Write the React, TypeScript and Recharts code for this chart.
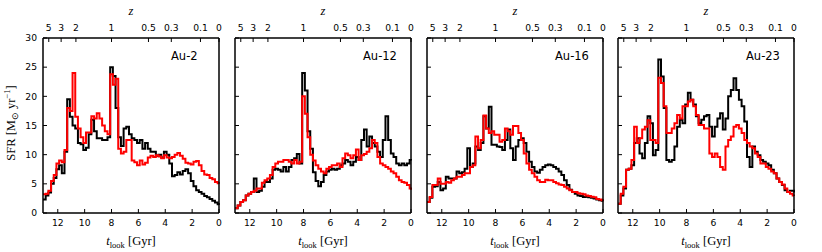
import React from 'react';
import { LineChart, Line, XAxis, YAxis, Customized } from 'recharts';

// lookback time bin edges [Gyr], oldest first
const tLook = [
  13.1, 12.9, 12.7, 12.5, 12.3, 12.1, 11.9, 11.7, 11.5, 11.3,
  11.1, 10.9, 10.7, 10.5, 10.3, 10.1, 9.9, 9.7, 9.5, 9.3,
  9.1, 8.9, 8.7, 8.5, 8.3, 8.1, 7.9, 7.7, 7.5, 7.3,
  7.1, 6.9, 6.7, 6.5, 6.3, 6.1, 5.9, 5.7, 5.5, 5.3,
  5.1, 4.9, 4.7, 4.5, 4.3, 4.1, 3.9, 3.7, 3.5, 3.3,
  3.1, 2.9, 2.7, 2.5, 2.3, 2.1, 1.9, 1.7, 1.5, 1.3,
  1.1, 0.9, 0.7, 0.5, 0.3, 0.1, 0.0,
];

const tTicks = [0, 2, 4, 6, 8, 10, 12];
const sfrTicks = [0, 5, 10, 15, 20, 25, 30];
const zLabels = ['5', '3', '2', '1', '0.5', '0.3', '0.1', '0'];
const zTickT = [12.67, 11.75, 10.65, 8.0, 5.25, 3.55, 1.38, 0];

const au2Black = [
  2.3, 3.0, 3.5, 5.0, 6.0, 7.5, 8.2, 6.8, 10.5, 19.5,
  16.5, 15.0, 14.5, 12.0, 11.8, 10.8, 11.2, 13.5, 16.0, 14.0,
  12.8, 12.8, 12.5, 12.5, 13.0, 25.0, 23.5, 18.0, 13.0, 11.5,
  14.5, 14.8, 13.5, 12.8, 12.5, 12.0, 12.5, 11.0, 12.0, 11.0,
  10.5, 10.5, 9.8, 10.0, 9.5, 10.5, 10.0, 8.5, 6.3, 6.5,
  7.0, 6.6, 7.2, 7.5, 6.8, 5.5, 4.6, 3.9, 3.6, 3.3,
  2.9, 2.7, 2.4, 2.1, 1.8, 1.5, 1.4,
];
const au2Red = [
  3.2, 3.3, 3.8, 5.5, 6.5, 8.5, 9.0, 8.7, 10.8, 18.0,
  17.5, 24.0, 16.5, 14.5, 13.0, 12.0, 13.8, 13.8, 16.6, 16.2,
  17.1, 16.2, 15.0, 14.0, 13.5, 23.8, 22.0, 23.0, 11.0, 10.2,
  10.5, 12.5, 12.5, 9.0, 8.7, 8.2, 9.0, 8.3, 8.6, 9.5,
  9.8, 9.6, 9.9, 9.7, 9.4, 9.9, 9.5, 9.4, 9.6, 10.0,
  10.3, 9.8, 9.3, 8.6, 8.5, 8.3, 8.8, 8.9, 8.2, 7.2,
  6.6, 6.5, 6.0, 5.8, 5.3, 5.1, 5.0,
];

const au12Black = [
  0.8, 1.3, 1.9, 2.2, 3.0, 3.3, 3.6, 5.9, 3.6, 3.8,
  4.5, 5.3, 5.3, 5.9, 7.4, 7.6, 7.4, 7.1, 7.9, 7.1,
  7.9, 9.1, 9.4, 10.1, 8.5, 24.0, 21.0, 14.0, 11.0, 7.0,
  5.5, 4.6, 5.3, 6.5, 7.1, 7.4, 7.6, 7.4, 7.6, 8.2,
  8.5, 9.1, 8.8, 8.2, 8.8, 9.6, 9.1, 12.5, 14.3, 11.4,
  13.1, 12.0, 11.4, 10.5, 9.6, 12.5, 16.6, 12.5, 10.2, 9.6,
  8.5, 8.2, 8.5, 8.2, 8.5, 9.1, 9.0,
];
const au12Red = [
  0.8, 1.3, 1.9, 2.2, 3.0, 3.3, 3.6, 3.8, 4.2, 4.2,
  5.2, 5.6, 5.9, 6.5, 7.9, 8.5, 8.8, 8.8, 9.1, 9.1,
  8.8, 8.5, 9.1, 8.5, 8.8, 20.0, 17.0, 13.0, 10.0, 9.0,
  8.2, 7.6, 7.1, 6.8, 7.6, 7.9, 8.2, 8.2, 8.5, 7.9,
  9.4, 10.2, 9.9, 9.4, 9.9, 10.9, 9.1, 9.9, 10.1, 10.5,
  11.1, 12.5, 12.0, 9.6, 8.5, 8.2, 7.9, 7.6, 7.1, 6.8,
  6.2, 5.6, 5.3, 5.2, 4.8, 4.2, 4.0,
];

const au16Black = [
  1.9, 2.6, 4.5, 4.6, 5.3, 3.9, 4.2, 6.2, 5.9, 5.9,
  5.9, 7.1, 6.8, 7.0, 7.6, 11.1, 7.9, 8.5, 11.4, 10.8,
  12.0, 16.6, 14.5, 18.2, 11.7, 11.7, 11.4, 11.3, 10.8, 12.5,
  14.3, 11.1, 9.1, 11.4, 12.5, 12.8, 12.0, 10.5, 8.8, 7.9,
  7.1, 6.9, 7.4, 7.9, 8.2, 8.3, 8.2, 7.9, 7.6, 7.1,
  6.5, 5.6, 4.8, 4.0, 3.6, 3.3, 3.0, 2.9, 2.75, 2.8,
  2.7, 2.6, 2.5, 2.3, 2.2, 2.1, 2.0,
];
const au16Red = [
  1.9, 2.75, 4.8, 4.8, 5.9, 5.0, 5.0, 5.3, 5.2, 5.6,
  5.9, 6.2, 6.2, 6.5, 6.8, 6.8, 7.9, 8.2, 13.1, 11.1,
  12.5, 16.7, 14.5, 13.7, 14.0, 13.4, 13.4, 12.2, 12.5, 14.5,
  14.0, 13.4, 14.9, 14.9, 13.7, 12.5, 10.2, 8.5, 7.4, 6.8,
  6.2, 5.6, 5.3, 5.3, 5.7, 5.6, 5.6, 5.3, 5.1, 4.9,
  4.8, 4.5, 4.2, 3.9, 3.6, 3.6, 3.4, 3.3, 3.2, 3.0,
  2.9, 2.8, 2.7, 2.4, 2.3, 2.2, 2.1,
];

const au23Black = [
  1.6, 3.0, 4.2, 7.4, 7.6, 8.2, 12.0, 12.8, 10.2, 9.4,
  12.0, 16.6, 15.4, 9.9, 10.8, 26.3, 23.4, 18.0, 9.1, 8.8,
  9.1, 11.4, 14.8, 16.0, 15.4, 18.6, 20.6, 19.4, 18.6, 16.6,
  15.4, 16.0, 16.6, 16.8, 14.8, 13.1, 14.8, 16.2, 17.1, 14.3,
  16.2, 20.0, 21.1, 23.1, 21.1, 19.4, 18.3, 15.7, 9.6, 7.9,
  11.4, 10.5, 9.9, 9.1, 8.8, 8.5, 8.2, 7.4, 6.8, 5.9,
  5.3, 4.8, 3.9, 3.6, 3.8, 3.8, 3.5,
];
const au23Red = [
  1.6, 3.3, 4.5, 7.4, 7.6, 9.1, 14.8, 12.0, 12.8, 14.3,
  14.8, 15.9, 12.5, 12.5, 12.0, 23.2, 22.3, 18.3, 13.7, 13.7,
  14.5, 15.4, 16.8, 16.2, 18.3, 18.3, 19.1, 19.4, 18.3, 16.8,
  15.1, 15.1, 14.5, 14.5, 10.2, 9.6, 10.2, 9.6, 7.9, 7.4,
  11.4, 12.5, 13.1, 14.8, 15.1, 14.5, 13.7, 12.5, 12.0, 11.4,
  11.1, 10.2, 9.6, 8.5, 8.5, 7.9, 7.6, 7.1, 6.8, 5.9,
  5.3, 4.9, 4.2, 3.6, 3.3, 3.0, 2.9,
];

const panels = [
  { name: 'Au-2', black: au2Black, red: au2Red, left: 43 },
  { name: 'Au-12', black: au12Black, red: au12Red, left: 235 },
  { name: 'Au-16', black: au16Black, red: au16Red, left: 427 },
  { name: 'Au-23', black: au23Black, red: au23Red, left: 618 },
];

const PLOT_L = 43;
const PLOT_W = 176;
const PLOT_T = 38;
const tickFont = { fontFamily: 'DejaVu Sans', fontSize: 9.2, fill: '#000' };
const serif = 'Liberation Serif';

function TimeLabel() {
  return (
    <text x={PLOT_L + PLOT_W / 2} y={245} textAnchor="middle" fontFamily={serif} fontSize={12.5} fill="#000">
      <tspan fontStyle="italic">t</tspan>
      <tspan fontSize={8.5} dy={2.5}>look</tspan>
      <tspan dy={-2.5}> [Gyr]</tspan>
    </text>
  );
}

function ZLabel() {
  return (
    <text x={PLOT_L + PLOT_W / 2} y={15} textAnchor="middle" fontFamily={serif} fontStyle="italic" fontSize={12.5} fill="#000">
      z
    </text>
  );
}

function SfrLabel() {
  return (
    <text x={15} y={123} transform="rotate(-90 15 123)" textAnchor="middle" fontFamily={serif} fontSize={12.5} fill="#000">
      SFR [M<tspan fontSize={8.5} dy={2.5}>⊙</tspan>
      <tspan dy={-2.5}> yr</tspan>
      <tspan fontSize={8.5} dy={-5}>−1</tspan>
      <tspan dy={5}>]</tspan>
    </text>
  );
}

function Panel({ name, black, red, left, showY }: any) {
  const rows = tLook.map((t, i) => ({ t, black: black[i], red: red[i] }));
  return (
    <div style={{ position: 'absolute', left: left - PLOT_L, top: 0 }}>
      <LineChart width={225} height={252} data={rows} margin={{ top: 0, right: 0, bottom: 0, left: 0 }}>
        <XAxis
          xAxisId="b"
          dataKey="t"
          type="number"
          domain={[0, 13.1]}
          reversed
          ticks={tTicks}
          interval={0}
          height={39}
          tickSize={-4}
          tickMargin={10}
          tick={tickFont}
          axisLine={{ stroke: '#000', strokeWidth: 1.5 }}
          tickLine={{ stroke: '#000', strokeWidth: 1 }}
        />
        <XAxis
          xAxisId="z"
          orientation="top"
          dataKey="t"
          type="number"
          domain={[0, 13.1]}
          reversed
          ticks={zTickT}
          interval={0}
          height={38}
          tickSize={-4}
          tickMargin={11}
          tickFormatter={(v: number) => zLabels[zTickT.indexOf(v)]}
          tick={tickFont}
          axisLine={{ stroke: '#000', strokeWidth: 1.5 }}
          tickLine={{ stroke: '#000', strokeWidth: 1 }}
        />
        <YAxis
          yAxisId="l"
          domain={[0, 30]}
          ticks={sfrTicks}
          interval={0}
          width={PLOT_L}
          tickSize={-4}
          tickMargin={10}
          tick={tickFont}
          tickFormatter={(v: number) => (showY ? String(v) : '')}
          axisLine={{ stroke: '#000', strokeWidth: 1.5 }}
          tickLine={{ stroke: '#000', strokeWidth: 1 }}
        />
        <YAxis
          yAxisId="r"
          orientation="right"
          domain={[0, 30]}
          ticks={sfrTicks}
          interval={0}
          width={6}
          tickSize={-4}
          tickFormatter={() => ''}
          axisLine={{ stroke: '#000', strokeWidth: 1.5 }}
          tickLine={{ stroke: '#000', strokeWidth: 1 }}
        />
        <Line
          xAxisId="b"
          yAxisId="l"
          type="stepAfter"
          dataKey="black"
          stroke="#000"
          strokeWidth={2}
          dot={false}
          isAnimationActive={false}
        />
        <Line
          xAxisId="b"
          yAxisId="l"
          type="stepAfter"
          dataKey="red"
          stroke="#ff0000"
          strokeWidth={2}
          dot={false}
          isAnimationActive={false}
        />
        <Customized
          component={() => (
            <g>
              <text x={PLOT_L + 128} y={PLOT_T + 22} fontFamily="DejaVu Sans" fontSize={11.5} fill="#000">
                {name}
              </text>
              <TimeLabel />
              <ZLabel />
              {showY ? <SfrLabel /> : null}
            </g>
          )}
        />
      </LineChart>
    </div>
  );
}

export default function App() {
  return (
    <div style={{ position: 'absolute', left: 0, top: 0, width: 822, height: 252, background: '#fff' }}>
      {panels.map((p, i) => (
        <Panel key={p.name} {...p} showY={i === 0} />
      ))}
    </div>
  );
}
